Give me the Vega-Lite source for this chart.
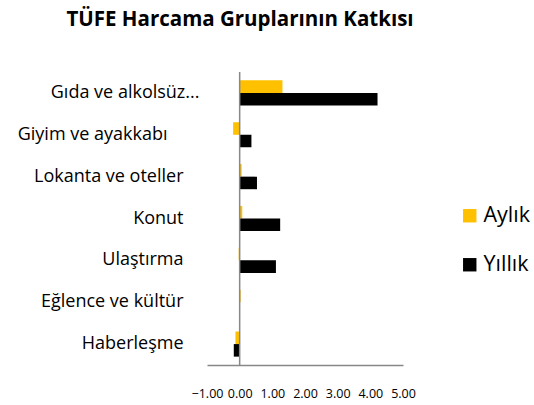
{
  "$schema": "https://vega.github.io/schema/vega-lite/v6.json",
  "autosize": "none",
  "width": 196,
  "height": 293,
  "padding": {"left": 207, "top": 72, "right": 131, "bottom": 40},
  "background": "white",
  "title": {"text": "TÜFE Harcama Gruplarının Katkısı", "font": "Open Sans", "fontSize": 20.5, "fontWeight": "bold", "color": "#000000", "anchor": "middle", "dx": -65, "offset": 41},
  "config": {"view": {"stroke": null}, "font": "Open Sans",
    "axisX": {"labelOverlap": false, "labelFlush": false, "labelPadding": 22, "labelFontSize": 12.5, "labelColor": "#000000", "grid": false, "ticks": false, "domainColor": "#888888", "domainWidth": 1.5}},
  "data": {"values": [
    {"grup": "Gıda ve alkolsüz...", "seri": "Aylık", "deger": 1.31},
    {"grup": "Gıda ve alkolsüz...", "seri": "Yıllık", "deger": 4.22},
    {"grup": "Giyim ve ayakkabı", "seri": "Aylık", "deger": -0.2},
    {"grup": "Giyim ve ayakkabı", "seri": "Yıllık", "deger": 0.36},
    {"grup": "Lokanta ve oteller", "seri": "Aylık", "deger": 0.06},
    {"grup": "Lokanta ve oteller", "seri": "Yıllık", "deger": 0.53},
    {"grup": "Konut", "seri": "Aylık", "deger": 0.08},
    {"grup": "Konut", "seri": "Yıllık", "deger": 1.24},
    {"grup": "Ulaştırma", "seri": "Aylık", "deger": -0.03},
    {"grup": "Ulaştırma", "seri": "Yıllık", "deger": 1.11},
    {"grup": "Eğlence ve kültür", "seri": "Aylık", "deger": 0.03},
    {"grup": "Eğlence ve kültür", "seri": "Yıllık", "deger": 0.0},
    {"grup": "Haberleşme", "seri": "Aylık", "deger": -0.13},
    {"grup": "Haberleşme", "seri": "Yıllık", "deger": -0.18}
  ]},
  "layer": [
    {
      "mark": {"type": "bar"},
      "encoding": {
        "y": {"field": "grup", "type": "nominal", "sort": null, "title": null,
              "scale": {"paddingInner": 0.4, "paddingOuter": 0.2},
              "axis": {"domain": false, "ticks": false,
                       "labelPadding": {"expr": "datum.value === 'Gıda ve alkolsüz...' ? 8 : datum.value === 'Giyim ve ayakkabı' ? 40 : 24"},
                       "labelFontSize": 18, "labelColor": "#000000", "labelFont": "Open Sans", "labelLimit": 300}},
        "yOffset": {"field": "seri", "type": "nominal", "sort": ["Aylık", "Yıllık"]},
        "x": {"field": "deger", "type": "quantitative", "title": null,
              "scale": {"domain": [-1, 5], "nice": false, "zero": false},
              "axis": {"values": [-1, 0, 1, 2, 3, 4, 5], "format": ".2f", "labelOverlap": false, "labelFlush": false, "labelPadding": 22, "labelFontSize": 12.5}},
        "color": {"field": "seri", "type": "nominal", "sort": ["Aylık", "Yıllık"],
                  "scale": {"domain": ["Aylık", "Yıllık"], "range": ["#FFC000", "#000000"]},
                  "legend": {"title": null, "orient": "none", "legendX": 252, "legendY": 133, "symbolType": "square", "symbolSize": 180, "symbolStrokeWidth": 0, "labelFontSize": 21.5, "labelColor": "#000000", "labelFont": "Open Sans", "rowPadding": 26, "labelOffset": 3}}
      }
    },
    {
      "data": {"values": [{"x": 0}]},
      "mark": {"type": "rule", "color": "#888888", "strokeWidth": 1.5},
      "encoding": {"x": {"field": "x", "type": "quantitative", "axis": {"values": [-1, 0, 1, 2, 3, 4, 5], "format": ".2f", "labelOverlap": false, "labelFlush": false, "labelPadding": 22, "labelFontSize": 12.5}}}
    }
  ]
}
